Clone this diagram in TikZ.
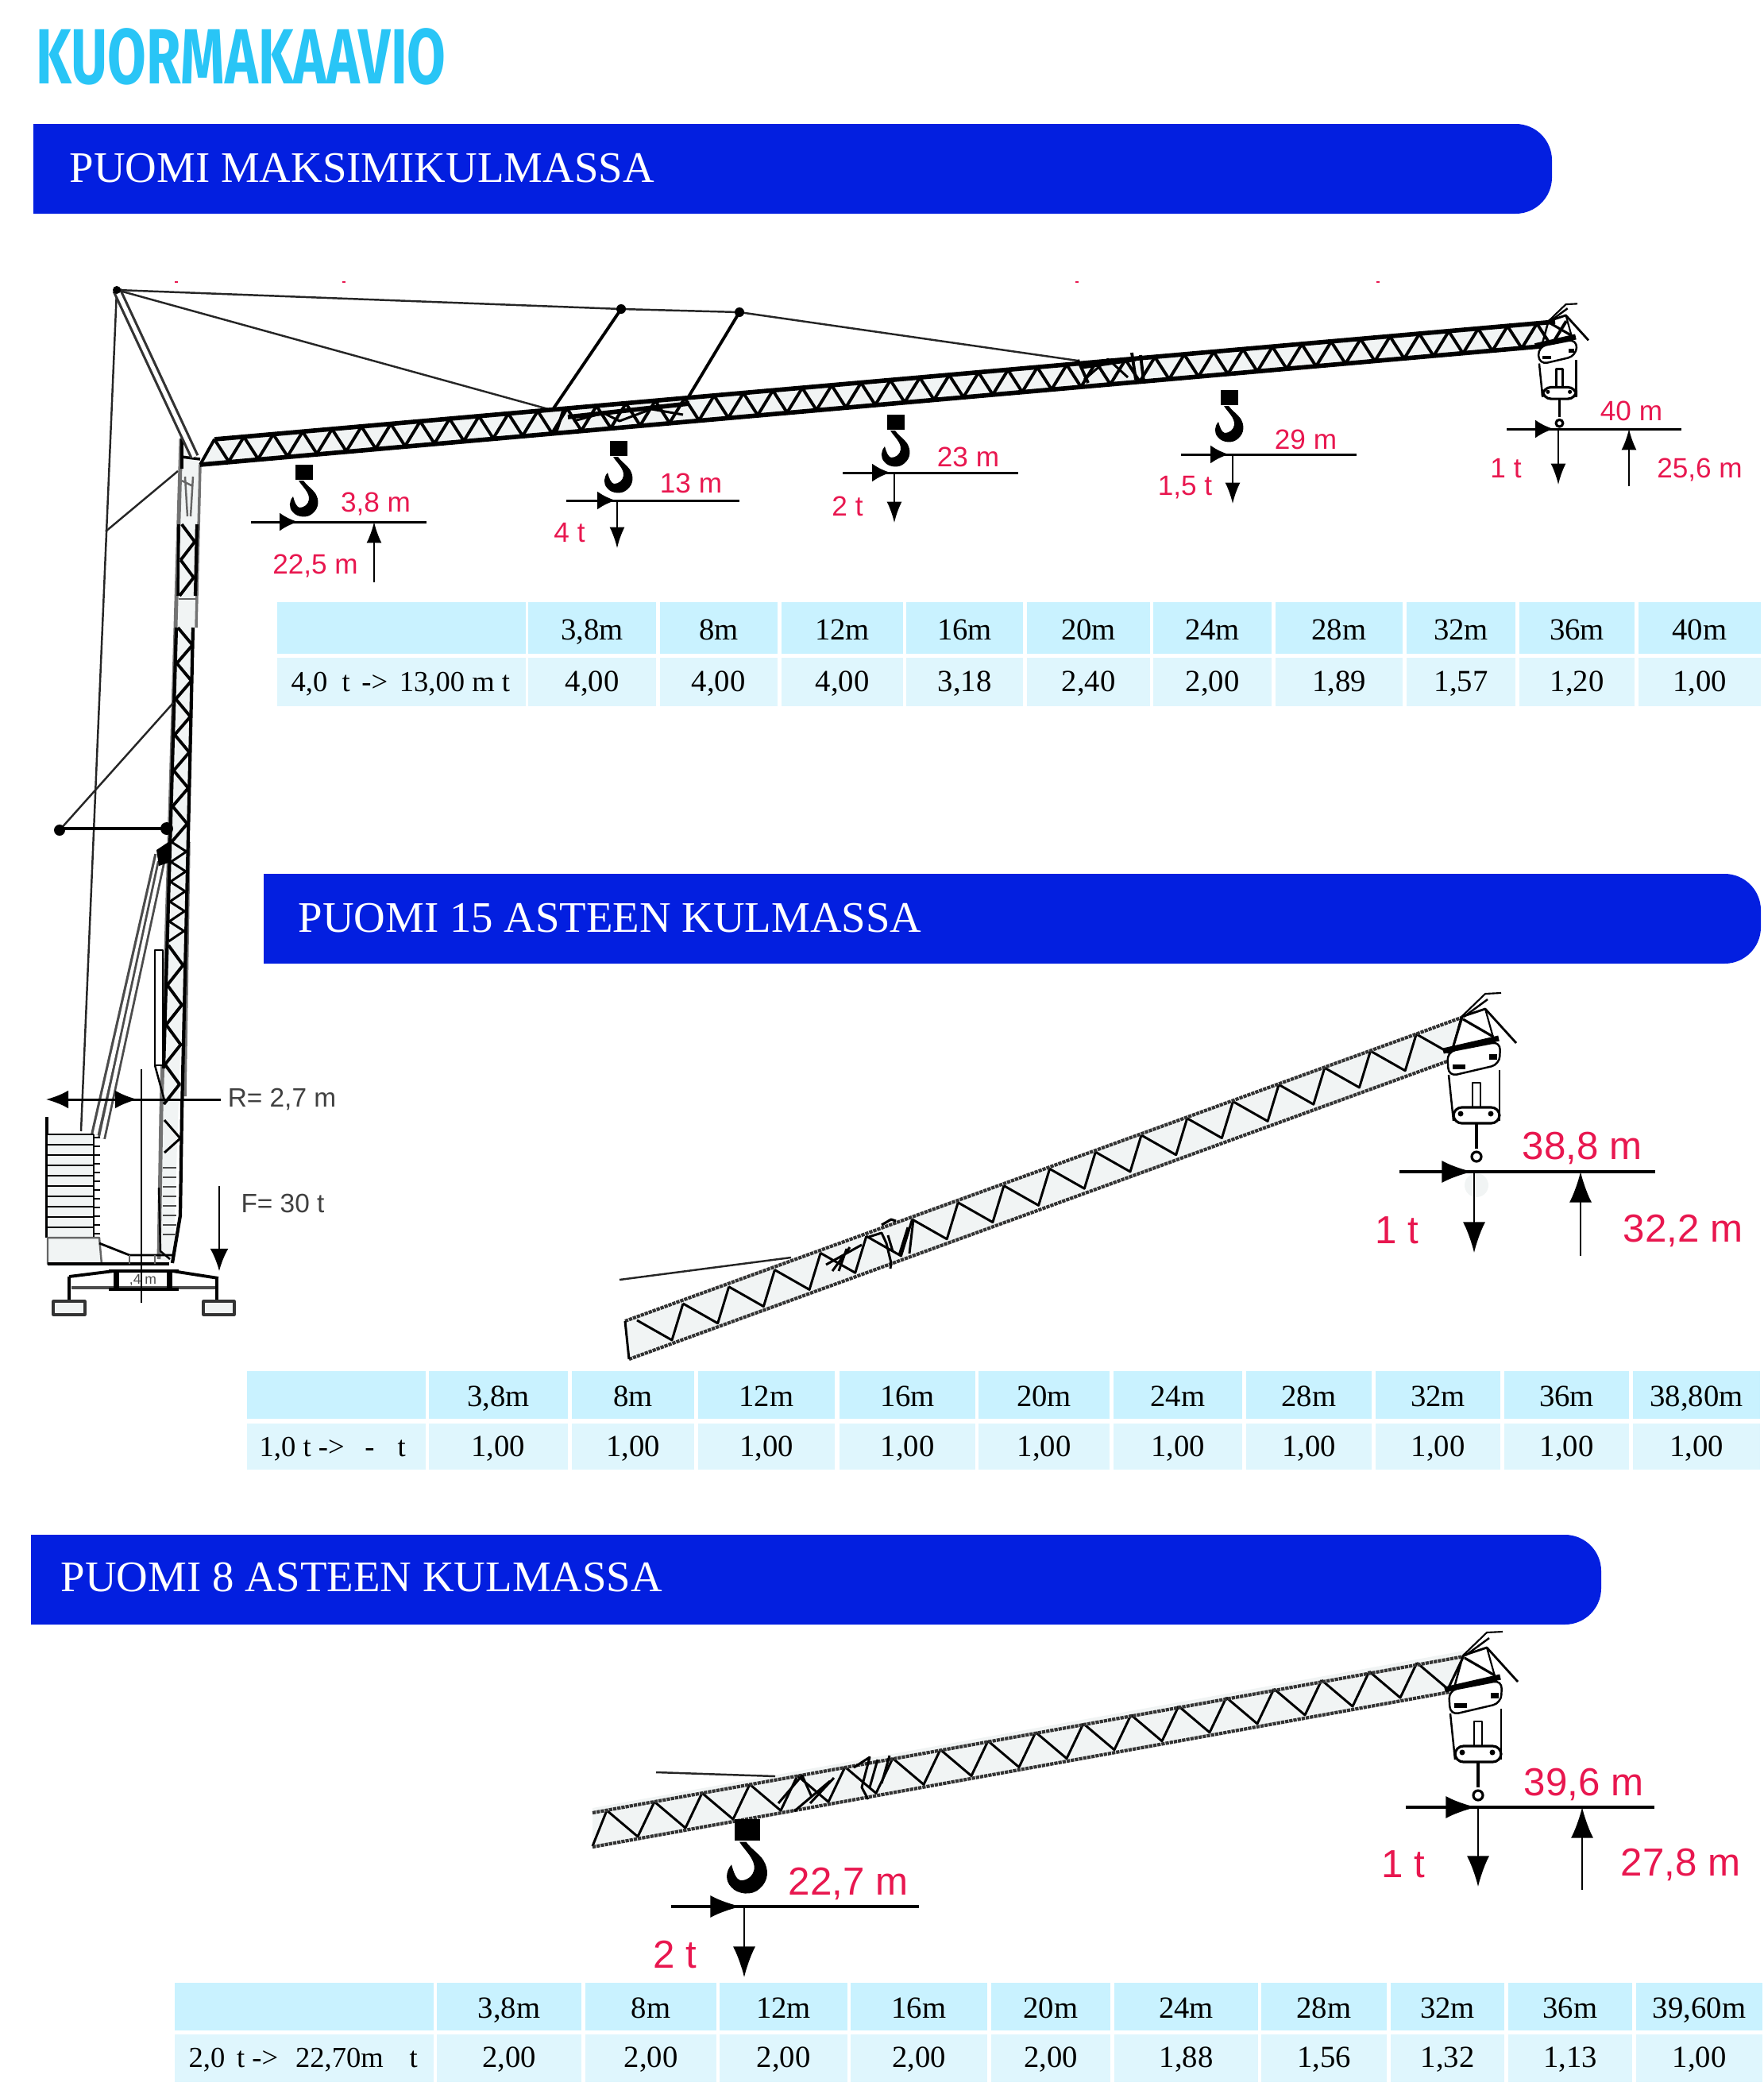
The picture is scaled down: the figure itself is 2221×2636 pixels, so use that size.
\documentclass[tikz,border=0pt]{standalone}
\usepackage{fontspec}
\setmainfont{Liberation Serif}
\newfontfamily\labelfont{Liberation Sans}
\newfontfamily\headfont{Fira Sans}
\usepackage{xcolor}
\usetikzlibrary{arrows.meta}

\definecolor{titlecyan}{HTML}{29C5F6}
\definecolor{bandblue}{HTML}{031FE0}
\definecolor{headcell}{HTML}{C9F2FF}
\definecolor{rowcell}{HTML}{DFF6FD}
\definecolor{labelred}{HTML}{E8174F}
\definecolor{panelgrey}{HTML}{F1F4F4}

\tikzset{
    bandtext/.style={anchor=west, text=white, font=\fontsize{15.6}{18}\selectfont},
    celltext/.style={anchor=base, font=\fontsize{11}{13}\selectfont},
    rowtext/.style={anchor=base west, inner sep=0pt, font=\fontsize{10.4}{13}\selectfont},
    redlabel/.style={text=labelred, font=\fontsize{10}{12}\labelfont},
    redbig/.style={text=labelred, font=\fontsize{14}{16}\labelfont},
    greylabel/.style={text=black!75, font=\fontsize{9.5}{11}\labelfont},
    chord/.style={line width=1.6pt},
    thinchord/.style={line width=1.2pt, draw=black!80, dash pattern=on 1.2pt off .3pt},
    web/.style={line width=1.1pt},
    thinweb/.style={line width=.85pt},
    cable/.style={line width=.7pt, draw=black!85},
    dimline/.style={line width=.85pt},
    bigline/.style={line width=1.1pt},
    vline/.style={line width=.6pt},
    headright/.style={-{Latex[length=6.5pt,width=6.5pt]}},
    headvert/.style={-{Latex[length=7.5pt,width=5.4pt]}},
    bigright/.style={-{Latex[length=11pt,width=8pt]}},
    bigvert/.style={-{Latex[length=11pt,width=8pt]}},
    cranehook/.pic={
        \fill[black] (-11,0) rectangle (11,19);
        \fill[black] (-7,20) .. controls (-2,28) and (7,35) .. (6,44) .. controls (5,50) and (0,54) .. (-6,54)
            .. controls (-10,53) and (-12,47) .. (-14,40) .. controls (-19,46) and (-20,54) .. (-14,60)
            .. controls (-9,66) and (4,68) .. (11,61) .. controls (19,54) and (19,44) .. (14,36)
            .. controls (10,30) and (3,26) .. (-1,20) -- cycle;
    },
    hoistblock/.pic={
        \draw[line width=.6pt] (-17,-38) -- (13,-67) -- (33,-68);
        \draw[line width=.7pt] (-14,-38) -- (16,-60);
        \draw[line width=.8pt] (-17,-38) -- (13,-48) -- (52,-5);
        \draw[line width=.7pt] (-17,-38) -- (-28,2);
        \draw[line width=.9pt] (-15,-35) -- (23,-13);
        \draw[line width=.6pt] (13,-48) -- (25,-5);
        \draw[line width=2pt] (-40,5) -- (30,-11);
        \draw[line width=.7pt, rounded corners=3pt, fill=white] (-35,6) -- (32,-7) -- (31,22) -- (-33,37) -- cycle;
        \fill (-28,22) rectangle (-12,28);
        \fill (18,9) rectangle (28,16);
        \draw[line width=.7pt] (-33,35) -- (-27,93);
        \draw[line width=.7pt] (31,29) -- (31,93);
        \draw[line width=.8pt] (-3,75) -- (-3,45) -- (7,45) -- (7,75);
        \draw[line width=.9pt, fill=white, rounded corners=3pt] (-27,76) -- (31,76) -- (31,96) -- (-27,96) -- cycle;
        \fill (-18,84) circle (3.5);
        \fill (20,84) circle (3.5);
        \draw[line width=1.1pt] (2,96) -- (2,128);
        \draw[line width=.9pt] (2,138) circle (6);
    },
}

\begin{document}
\begin{tikzpicture}[x=0.01cm, y=-0.01cm, line join=round,
    declare function={mastl(\t)=228-0.0295*(\t-552);}]
    \useasboundingbox (0,0) rectangle (2221,2636);

    % Otsikko
    \node[anchor=west, inner sep=0pt, xscale=.717, transform shape, text=titlecyan,
        font=\fontsize{28}{30}\headfont\bfseries] (title) at (45,71) {KUORMAKAAVIO};

    % Palkit
    \fill[bandblue] [sharp corners] (42,156) [rounded corners=13pt] -- (1954,156) -- (1954,269) [sharp corners] -- (42,269) -- cycle;
    \node[bandtext, inner sep=0pt] (band1) at (87,212) {PUOMI MAKSIMIKULMASSA};
    \fill[bandblue] [sharp corners] (332,1100) [rounded corners=13pt] -- (2217,1100) -- (2217,1213) [sharp corners] -- (332,1213) -- cycle;
    \node[bandtext, inner sep=0pt] (band2) at (375,1156) {PUOMI 15 ASTEEN KULMASSA};
    \fill[bandblue] [sharp corners] (39,1932) [rounded corners=13pt] -- (2016,1932) -- (2016,2045) [sharp corners] -- (39,2045) -- cycle;
    \node[bandtext, inner sep=0pt] (band3) at (76,1986) {PUOMI 8 ASTEEN KULMASSA};

    % Punaiset jaljet
    \foreach \x in {222,433,1356,1735}
        \draw[labelred, line width=.7pt] (\x-2,355) -- (\x+2,355);

    % Taulukko 1
    \foreach \xa/\xb/\head/\val [count=\i] in {349/661.5/{}/{},665/826/{3,8m}/{4,00},830.6/979/{8m}/{4,00},984/1137/{12m}/{4,00},
        1141/1288/{16m}/{3,18},1293/1448/{20m}/{2,40},1452/1601/{24m}/{2,00},1606/1766/{28m}/{1,89},
        1771/1908/{32m}/{1,57},1913/2058/{36m}/{1,20},2063/2217/{40m}/{1,00}} {
        \fill[headcell] (\xa,758) rectangle (\xb,823);
        \fill[rowcell] (\xa,828) rectangle (\xb,889);
        \node[celltext] (hA\i) at ({(\xa+\xb)/2},805) {\head};
        \node[celltext] (vA\i) at ({(\xa+\xb)/2},870) {\val};
    }
    \node[rowtext] (rowA) at (366,870) {4,0\hspace{.5em}t\hspace{.4em}->\hspace{.4em}13,00 m t};

    % Taulukko 2
    \foreach \xa/\xb/\head/\val [count=\i] in {311/536/{}/{},540/714.5/{3,8m}/{1,00},720/874/{8m}/{1,00},879/1051/{12m}/{1,00},
        1057/1228/{16m}/{1,00},1232/1397/{20m}/{1,00},1402/1564/{24m}/{1,00},1569/1727/{28m}/{1,00},
        1732/1889/{32m}/{1,00},1894/2051/{36m}/{1,00},2056/2216/{38,80m}/{1,00}} {
        \fill[headcell] (\xa,1726) rectangle (\xb,1786);
        \fill[rowcell] (\xa,1792) rectangle (\xb,1850);
        \node[celltext] (hB\i) at ({(\xa+\xb)/2},1770) {\head};
        \node[celltext] (vB\i) at ({(\xa+\xb)/2},1833) {\val};
    }
    \node[rowtext] (rowB) at (326,1833) {1,0 t ->\hspace{.7em}-\hspace{.8em}t};

    % Taulukko 3
    \foreach \xa/\xb/\head/\val [count=\i] in {220/546/{}/{},550/732/{3,8m}/{2,00},737/902/{8m}/{2,00},906/1067/{12m}/{2,00},
        1071/1243/{16m}/{2,00},1248/1398/{20m}/{2,00},1403/1584/{24m}/{1,88},1588/1746/{28m}/{1,56},
        1751/1894/{32m}/{1,32},1899/2055/{36m}/{1,13},2060/2219/{39,60m}/{1,00}} {
        \fill[headcell] (\xa,2496) rectangle (\xb,2556);
        \fill[rowcell] (\xa,2561) rectangle (\xb,2621);
        \node[celltext] (hC\i) at ({(\xa+\xb)/2},2540) {\head};
        \node[celltext] (vC\i) at ({(\xa+\xb)/2},2602) {\val};
    }
    \node[rowtext] (rowC) at (237,2602) {2,0\hspace{.4em}t ->\hspace{.6em}22,70m\hspace{.9em}t};

    % Masto
    \fill[panelgrey] (228,552) -- (252,585) -- (218,1590) -- (200,1585) -- (205,1400) -- cycle;
    \draw[black!55, line width=1.4pt] (228,552) -- (203,1400) -- (200,1585);
    \draw[black!55, line width=1pt] (252,585) -- (247,790) (238,1060) -- (233,1380);
    \draw[line width=1pt] (229,552) -- (229,590) (228,575) -- (252,578);
    \draw[line width=1pt] (225,660) -- (224,750);
    \draw[line width=1.2pt] (222,790) -- (206,1345);
    \draw[line width=1.2pt] (248,660) -- (246,750);
    \draw[line width=1.2pt] (243,790) -- (229,1400) -- (227,1530) -- (217,1590);
    \draw[black!60, line width=.7pt] (233,600) -- (236,650) (243,600) -- (240,650) (229,605) -- (243,612);
    \draw[black!60, line width=.8pt] (225,754) -- (247,754);
    \foreach \t in {660,705}
        \draw[web] ({mastl(\t)+4},\t) -- ({mastl(\t+22)+21},\t+22) -- ({mastl(\t+45)+4},\t+45);
    \foreach \t in {790,835,...,1015}
        \draw[web] ({mastl(\t)+3},\t) -- ({mastl(\t+22)+22},\t+22) -- ({mastl(\t+45)+3},\t+45);
    \foreach \t in {1060,1085,1110,1135,1160}
        \draw[thinweb] ({mastl(\t)+3},\t) -- ({mastl(\t+12)+22},\t+12) -- ({mastl(\t+25)+3},\t+25);
    \foreach \t in {1190,1240,1290,1340}
        \draw[web] ({mastl(\t)+3},\t) -- ({mastl(\t+25)+22},\t+25) -- ({mastl(\t+50)+3},\t+50);
    \draw[thinweb] (207,1410) -- (227,1433) -- (207,1451);
    \foreach \t in {1470,1482,...,1560}
        \draw[line width=.6pt, black!70] (205,\t) -- (222,\t);
    \draw[line width=.7pt] (200,1495) -- (202,1575) -- (214,1585);
    \draw[line width=.7pt, fill=white] (195,1196) rectangle (205,1341);
    \draw[line width=.7pt] (195,1341) -- (207,1385);

    % Vetotangot ja vaijerit
    \draw[cable] (147,365) -- (102,1424);
    \draw[line width=.9pt, black!80, double=white, double distance=1.5pt] (147,365) -- (245,575);
    \draw[line width=.9pt, black!70, double=white, double distance=1.5pt] (200,1076) -- (120,1428);
    \draw[line width=.8pt, black!70, double=white, double distance=1.3pt] (203,1085) -- (128,1433);
    \fill (197,1070) -- (212,1060) -- (215,1085) -- (200,1090) -- cycle;
    \draw[cable] (133,669) -- (224,593);
    \draw[cable] (75,1045) -- (218,885);
    \draw[line width=1.4pt] (75,1043) -- (213,1043);
    \fill (75,1045) circle (7);
    \fill (210,1043) circle (8);
    \draw[cable] (147,365) -- (782,389) -- (931,393) -- (1357,454);
    \draw[cable] (147,365) -- (694,516);
    \draw[line width=1.1pt] (782,389) -- (697,514);
    \draw[line width=1.1pt] (931,393) -- (866,501);
    \fill (782,389) circle (6);
    \fill (931,393) circle (6);
    \fill (147,365) circle (5);

    % Vastapaino
    \draw[line width=.9pt] (59,1406) -- (59,1558);
    \fill[panelgrey] (60,1428) rectangle (118,1558);
    \foreach \t in {1428,1441,...,1558}
        \draw[line width=.8pt] (60,\t) -- (118,\t);
    \draw[line width=.7pt] (118,1428) -- (118,1558);
    \foreach \t in {1432,1443,...,1558}
        \draw[line width=.8pt] (118,\t) -- (126,\t);
    \draw[black!60, line width=.7pt, fill=panelgrey] (60,1558) -- (125,1558) -- (128,1591) -- (60,1591) -- cycle;
    \draw[line width=.9pt] (60,1591) -- (213,1591);
    \draw[line width=.8pt] (125,1565) -- (163,1580) -- (217,1580);
    \draw[black!60, line width=.6pt] (163,1580) -- (163,1591) (195,1580) -- (195,1591);

    % Alusta
    \draw[line width=1.1pt] (87,1607) -- (143,1600) (217,1600) -- (275,1609);
    \draw[black!70, line width=1.1pt] (90,1621) -- (272,1621);
    \draw[line width=1pt] (137,1600) -- (225,1600) (137,1623) -- (225,1623);
    \fill (143,1600) rectangle (150,1623);
    \fill (210,1600) rectangle (217,1623);
    \node[font=\fontsize{5}{6}\labelfont, inner sep=0pt, text=black!70] (chassislabel) at (180,1612) {,4 m};
    \draw[line width=.9pt] (87,1607) -- (87,1638) (273,1609) -- (273,1638);
    \draw[black!80, line width=.9pt, fill=panelgrey] (67,1638) rectangle (107,1655);
    \draw[black!80, line width=.9pt, fill=panelgrey] (256,1638) rectangle (295,1655);

    % Mitat R ja F
    \draw[line width=.85pt] (178,1346) -- (178,1640);
    \draw[line width=.85pt] (278,1384) -- (173,1384);
    \draw[line width=.85pt, -{Latex[length=8pt,width=6.5pt]}] (173,1384) -- (100,1384) -- (58,1384);
    \draw[line width=.85pt, -{Latex[length=8pt,width=6.5pt]}] (120,1384) -- (173,1384);
    \draw[line width=.7pt, -{Latex[length=8pt,width=6.5pt]}] (276,1493) -- (276,1600);
    \node[greylabel, inner sep=0pt] (radius) at (355,1384) {R= 2,7 m};
    \node[greylabel, inner sep=0pt] (force) at (356,1515) {F= 30 t};

    % Puomi maksimikulmassa
    \fill[panelgrey] (270,553) -- (1958,405) -- (1940,436) -- (252,585) -- cycle;
    \foreach \i in {0,...,45}
        \draw[web] (270+\i*37,553-\i*3.24) -- (288+\i*37,581-\i*3.24) -- (307+\i*37,550-\i*3.24);
    \draw[chord] (270,553) -- (1958,405);
    \draw[chord] (252,585) -- (1940,436);
    \draw[web] (252,585) -- (270,553);
    \draw[web] (710,514) -- (700,545) (1357,453) -- (1370,482) (1436,447) -- (1440,480) (1425,444) -- (1430,478);
    \draw[line width=1.6pt] (715,525) -- (868,508) (1360,462) -- (1430,452);
    \draw[thinweb] (722,530) -- (760,520) -- (780,530) -- (820,515) -- (860,522);
    \draw[thinweb] (1365,478) -- (1395,452) -- (1420,475);
    \pic[scale=.73] at (1962,432) {hoistblock};
    \pic at (383,585) {cranehook};
    \pic at (779,555) {cranehook};
    \pic at (1128,522) {cranehook};
    \pic at (1548,491) {cranehook};

    % Kuormat 1
    \draw[dimline] (316,657) -- (537,657);
    \draw[dimline, headright] (316,657) -- (375,657);
    \draw[vline, headvert] (471,733) -- (471,657);
    \node[redlabel, inner sep=0pt] (radA1) at (473,634) {3,8 m};
    \node[redlabel, inner sep=0pt] (hgtA1) at (397,712) {22,5 m};
    \draw[dimline] (713,630) -- (931,630);
    \draw[dimline, headright] (713,630) -- (775,630);
    \draw[vline, headvert] (777,630) -- (777,690);
    \node[redlabel, inner sep=0pt] (radA2) at (870,608) {13 m};
    \node[redlabel, inner sep=0pt] (loadA2) at (717,671) {4 t};
    \draw[dimline] (1061,595) -- (1282,595);
    \draw[dimline, headright] (1061,595) -- (1121,595);
    \draw[vline, headvert] (1126,595) -- (1126,658);
    \node[redlabel, inner sep=0pt] (radA3) at (1219,575) {23 m};
    \node[redlabel, inner sep=0pt] (loadA3) at (1067,637) {2 t};
    \draw[dimline] (1487,572) -- (1708,572);
    \draw[dimline, headright] (1487,572) -- (1547,572);
    \draw[vline, headvert] (1552,572) -- (1552,634);
    \node[redlabel, inner sep=0pt] (radA4) at (1644,553) {29 m};
    \node[redlabel, inner sep=0pt] (loadA4) at (1492,614) {1,5 t};
    \draw[dimline] (1897,540) -- (2117,540);
    \draw[dimline, headright] (1897,540) -- (1956,540);
    \draw[vline, headvert] (1962,540) -- (1962,610);
    \draw[vline, headvert] (2051,612) -- (2051,540);
    \node[redlabel, inner sep=0pt] (radA5) at (2054,517) {40 m};
    \node[redlabel, inner sep=0pt] (loadA5) at (1896,590) {1 t};
    \node[redlabel, inner sep=0pt] (hgtA5) at (2140,591) {25,6 m};

    % Puomi 15 astetta
    \fill[panelgrey] (787,1663) -- (1840,1281) -- (1825,1335) -- (792,1711) -- cycle;
    \foreach \i in {0,...,17}
        \draw[thinweb] (802+\i*57.7,1662-\i*21.2) -- (846+\i*57.7,1687-\i*21.2) -- (860+\i*57.7,1641-\i*21.2);
    \draw[thinchord] (787,1663) -- (1840,1281);
    \draw[thinchord] (792,1711) -- (1825,1335);
    \draw[thinweb] (787,1663) -- (792,1711);
    \draw[thinweb] (1040,1592) -- (1085,1567) (1048,1600) -- (1070,1570) (1056,1600) -- (1066,1572);
    \draw[thinweb] (1094,1557) -- (1110,1552) -- (1116,1565) -- (1122,1590) -- (1121,1597);
    \draw[line width=.9pt] (1110,1542) -- (1122,1535) -- (1128,1537);
    \draw[thinweb] (1118,1555) -- (1124,1575) (1143,1545) -- (1132,1580) (1150,1535) -- (1145,1578);
    \draw[cable] (780,1611) -- (996,1583);
    \pic at (1857,1318) {hoistblock};
    \fill[panelgrey] (1859,1492) circle (15);

    % Kuormat 2
    \draw[bigline] (1762,1475) -- (2084,1475);
    \draw[bigline, bigright] (1762,1475) -- (1854,1475);
    \draw[vline, bigvert] (1856,1475) -- (1856,1577);
    \draw[vline, bigvert] (1990,1581) -- (1990,1475);
    \node[redbig, inner sep=0pt] (radB) at (1992,1445) {38,8 m};
    \node[redbig, inner sep=0pt] (loadB) at (1759,1549) {1 t};
    \node[redbig, inner sep=0pt] (hgtB) at (2119,1549) {32,2 m};

    % Puomi 8 astetta
    \fill[panelgrey] (746,2276) -- (1844,2078) -- (1825,2130) -- (746,2325) -- cycle;
    \foreach \i in {0,...,17}
        \draw[thinweb] (764+\i*60,2279-\i*10.93) -- (803+\i*60,2312-\i*10.93) -- (824+\i*60,2268-\i*10.93);
    \draw[thinweb] (746,2324) -- (764,2279);
    \draw[thinchord] (746,2282) -- (1844,2085);
    \draw[thinchord] (746,2325) -- (1825,2130);
    \draw[thinweb] (980,2270) -- (1010,2235) -- (1022,2262) (1000,2280) -- (1045,2242) (1020,2270) -- (1050,2238);
    \draw[thinweb] (1075,2225) -- (1095,2212) -- (1085,2250) -- (1093,2265) (1105,2215) -- (1095,2250) (1120,2210) -- (1110,2245);
    \draw[cable] (826,2231) -- (976,2236);
    \pic at (1859,2122) {hoistblock};
    \pic[scale=1.43] at (941,2290) {cranehook};

    % Kuormat 3
    \draw[bigline] (1770,2275) -- (2083,2275);
    \draw[bigline, bigright] (1770,2275) -- (1859,2275);
    \draw[vline, bigvert] (1861,2275) -- (1861,2375);
    \draw[vline, bigvert] (1992,2379) -- (1992,2275);
    \node[redbig, inner sep=0pt] (radC1) at (1994,2246) {39,6 m};
    \node[redbig, inner sep=0pt] (loadC1) at (1767,2347) {1 t};
    \node[redbig, inner sep=0pt] (hgtC1) at (2116,2347) {27,8 m};
    \draw[bigline] (845,2400) -- (1157,2400);
    \draw[bigline, bigright] (845,2400) -- (933,2400);
    \draw[vline, bigvert] (937,2400) -- (937,2489);
    \node[redbig, inner sep=0pt] (radC2) at (1068,2371) {22,7 m};
    \node[redbig, inner sep=0pt] (loadC2) at (850,2460) {2 t};
\end{tikzpicture}
\end{document}
